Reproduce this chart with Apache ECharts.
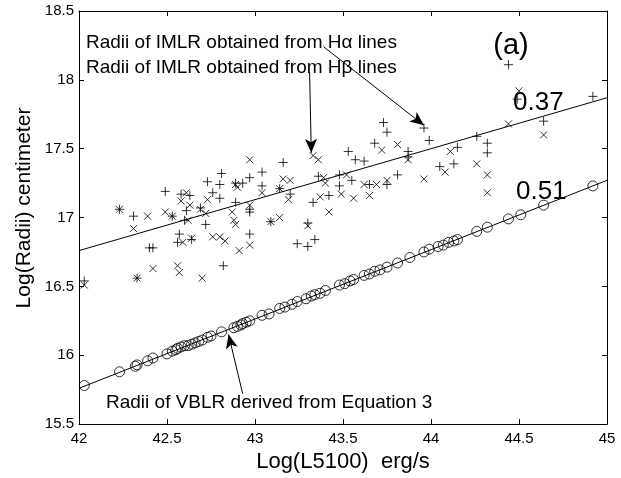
<!DOCTYPE html>
<html>
<head>
<meta charset="utf-8">
<script src="https://cdn.jsdelivr.net/npm/echarts@6/dist/echarts.min.js"></script>
<style>
html, body { margin: 0; padding: 0; background: #fff; }
#chart { width: 621px; height: 478px; }
</style>
</head>
<body>
<div id="chart"></div>
<script>
// Hα (+) radii, [log L5100, log R]
const halphaPoints = [
    [43.04, 17.33], [42.81, 17.32], [42.73, 17.26], [42.80, 17.24], [42.89, 17.25],
    [42.93, 17.25], [42.97, 17.29], [42.49, 17.19], [42.58, 17.17], [42.63, 17.16],
    [42.76, 17.18], [42.80, 17.14], [42.61, 17.05], [42.69, 17.07], [42.53, 17.01],
    [42.23, 17.06], [42.31, 17.01], [42.60, 16.98], [42.72, 16.95], [42.89, 17.11],
    [42.97, 17.06], [43.04, 17.23], [42.97, 17.04], [42.57, 16.88], [42.56, 16.82],
    [42.64, 16.84], [42.97, 16.88], [42.40, 16.78], [42.42, 16.78], [42.82, 16.65],
    [42.33, 16.56], [42.03, 16.54],
    [43.53, 17.48], [43.57, 17.42], [43.62, 17.41], [43.87, 17.44], [43.16, 17.40],
    [44.05, 17.37], [44.13, 17.39], [43.36, 17.30], [43.48, 17.31], [43.55, 17.27],
    [43.65, 17.24], [43.75, 17.24], [43.81, 17.31], [43.14, 17.21], [43.20, 17.17],
    [43.33, 17.11], [43.42, 17.16], [43.48, 17.23], [43.09, 16.97], [43.30, 16.96],
    [43.34, 16.84], [43.30, 16.79], [43.24, 16.81],
    [43.73, 17.69], [43.75, 17.62], [43.96, 17.65], [43.99, 17.56], [43.68, 17.54],
    [43.87, 17.48], [44.15, 17.51],
    [44.44, 18.11], [44.49, 17.86], [44.92, 17.88], [44.64, 17.70], [44.26, 17.59],
    [44.32, 17.54], [44.32, 17.47]
];

// Hβ (x) radii
const hbetaPoints = [
    [42.97, 17.42], [42.89, 17.24], [42.90, 17.22], [42.61, 17.18], [42.58, 17.12],
    [42.73, 17.13], [42.63, 17.09], [42.69, 17.06], [42.49, 17.04], [42.53, 17.01],
    [42.23, 17.06], [42.39, 17.01], [42.31, 16.92], [42.62, 16.98], [42.72, 17.03],
    [42.87, 17.04], [42.97, 17.09], [43.04, 17.18], [42.88, 16.98], [42.89, 16.95],
    [42.59, 16.82], [42.64, 16.85], [42.76, 16.86], [42.80, 16.86], [42.83, 16.83],
    [42.97, 16.80], [42.91, 16.76], [42.56, 16.65], [42.57, 16.60], [42.42, 16.63],
    [42.33, 16.56], [42.70, 16.56], [42.03, 16.51],
    [43.72, 17.49], [44.11, 17.48], [43.33, 17.45], [43.36, 17.42], [43.87, 17.42],
    [44.08, 17.33], [43.16, 17.28], [43.20, 17.27], [43.39, 17.29], [43.40, 17.25],
    [43.52, 17.31], [43.62, 17.24], [43.69, 17.24], [43.75, 17.27], [43.96, 17.28],
    [43.14, 17.21], [43.19, 17.13], [43.37, 17.15], [43.49, 17.17], [43.56, 17.14],
    [43.65, 17.16], [43.42, 17.04], [43.14, 17.00], [43.09, 16.97], [43.30, 16.94],
    [43.81, 17.53],
    [44.50, 17.92], [44.64, 17.60], [44.44, 17.68], [44.26, 17.39], [44.32, 17.31],
    [44.32, 17.18]
];

// VBLR radii (circles)
const vblrPoints = [
    [42.03, 15.78], [42.23, 15.88], [42.32, 15.92], [42.33, 15.93], [42.39, 15.96],
    [42.42, 15.98], [42.50, 16.01], [42.53, 16.03], [42.55, 16.04], [42.56, 16.05],
    [42.58, 16.06], [42.60, 16.07], [42.62, 16.07], [42.64, 16.08], [42.66, 16.09],
    [42.68, 16.10], [42.70, 16.11], [42.73, 16.13], [42.75, 16.14], [42.81, 16.17],
    [42.88, 16.20], [42.90, 16.21], [42.92, 16.22], [42.93, 16.23], [42.95, 16.24],
    [42.97, 16.25], [43.04, 16.29], [43.08, 16.30], [43.14, 16.34], [43.17, 16.35],
    [43.21, 16.37], [43.24, 16.39], [43.29, 16.41], [43.32, 16.43], [43.34, 16.44],
    [43.37, 16.45], [43.40, 16.47], [43.48, 16.51], [43.51, 16.52], [43.54, 16.54],
    [43.56, 16.55], [43.62, 16.58], [43.65, 16.59], [43.68, 16.61], [43.71, 16.62],
    [43.75, 16.64], [43.81, 16.67], [43.88, 16.71], [43.96, 16.75], [43.99, 16.77],
    [44.04, 16.79], [44.07, 16.80], [44.10, 16.82], [44.13, 16.83], [44.15, 16.84],
    [44.26, 16.90], [44.32, 16.93], [44.44, 16.99], [44.51, 17.02], [44.64, 17.09],
    [44.92, 17.23]
];

// fitted lines (slopes 0.37 and 0.51)
const imlrFit = [[42, 16.76], [45, 17.87]];
const vblrFit = [[42, 15.76], [45, 17.27]];

const xTicks = { min: 42, max: 45, step: 0.5 };
const yTicks = { min: 15.5, max: 18.5, step: 0.5 };

const FONT = '"Liberation Sans", Arial, Helvetica, sans-serif';
const PLUS = 'path://M5,0L5,10M0,5L10,5';
const CROSS = 'path://M0,0L10,10M10,0L0,10';

const chart = echarts.init(document.getElementById('chart'));

function boxAxis(t, pos, extra) {
    return Object.assign({
        type: 'value',
        position: pos,
        min: t.min,
        max: t.max,
        interval: t.step,
        axisLine: { show: true, onZero: false, lineStyle: { color: '#000', width: 1 } },
        axisTick: { show: true, inside: true, length: 5, lineStyle: { color: '#000', width: 1 } },
        axisLabel: { show: false },
        splitLine: { show: false }
    }, extra || {});
}

const labelStyle = { show: true, color: '#000', fontSize: 15, fontFamily: FONT };

chart.setOption({
    animation: false,
    backgroundColor: '#fff',
    grid: { left: 79, top: 11, width: 528, height: 415 },
    xAxis: [
        boxAxis(xTicks, 'bottom', {
            axisLabel: Object.assign({ margin: 7 }, labelStyle),
            name: 'Log(L5100)  erg/s',
            nameLocation: 'middle',
            nameGap: 26,
            nameTextStyle: { color: '#000', fontSize: 22, fontFamily: FONT }
        }),
        boxAxis(xTicks, 'top')
    ],
    yAxis: [
        boxAxis(yTicks, 'left', {
            axisLabel: Object.assign({ margin: 5 }, labelStyle)
        }),
        boxAxis(yTicks, 'right')
    ],
    series: [
        {
            name: 'IMLR fit',
            type: 'line',
            data: imlrFit,
            showSymbol: false,
            lineStyle: { color: '#000', width: 1 },
            markLine: {
                silent: true,
                symbol: ['none', 'arrow'],
                symbolSize: [9, 14],
                lineStyle: { color: '#000', width: 1, type: 'solid' },
                label: { show: false },
                data: [
                    [{ coord: [43.39, 18.24] }, { coord: [43.96, 17.67] }],
                    [{ coord: [43.31, 18.06] }, { coord: [43.32, 17.47] }],
                    [{ coord: [42.93, 15.72] }, { coord: [42.85, 16.15] }]
                ]
            }
        },
        {
            name: 'VBLR fit',
            type: 'line',
            data: vblrFit,
            showSymbol: false,
            lineStyle: { color: '#000', width: 1 }
        },
        {
            name: 'Hα',
            type: 'scatter',
            data: halphaPoints,
            symbol: PLUS,
            symbolSize: 9,
            itemStyle: { color: 'none', borderColor: '#000', borderWidth: 1 }
        },
        {
            name: 'Hβ',
            type: 'scatter',
            data: hbetaPoints,
            symbol: CROSS,
            symbolSize: 7,
            itemStyle: { color: 'none', borderColor: '#000', borderWidth: 1 }
        },
        {
            name: 'VBLR',
            type: 'scatter',
            data: vblrPoints,
            symbol: 'circle',
            symbolSize: 10,
            itemStyle: { color: 'none', borderColor: '#000', borderWidth: 1 }
        }
    ],
    graphic: [
        { type: 'text', x: 24, y: 208, rotation: Math.PI / 2, style: { text: 'Log(Radii) centimeter', font: '21px ' + FONT, fill: '#000', align: 'center', verticalAlign: 'middle' } },
        { type: 'text', x: 86, y: 43, style: { text: 'Radii of IMLR obtained from Hα lines', font: '19px ' + FONT, fill: '#000', verticalAlign: 'middle' } },
        { type: 'text', x: 86, y: 68, style: { text: 'Radii of IMLR obtained from Hβ lines', font: '19px ' + FONT, fill: '#000', verticalAlign: 'middle' } },
        { type: 'text', x: 106, y: 403, style: { text: 'Radii of VBLR derived from Equation 3', font: '19px ' + FONT, fill: '#000', verticalAlign: 'middle' } },
        { type: 'text', x: 511, y: 46, style: { text: '(a)', font: '29px ' + FONT, fill: '#000', align: 'center', verticalAlign: 'middle' } },
        { type: 'text', x: 513, y: 103, style: { text: '0.37', font: '26px ' + FONT, fill: '#000', verticalAlign: 'middle' } },
        { type: 'text', x: 516, y: 192, style: { text: '0.51', font: '26px ' + FONT, fill: '#000', verticalAlign: 'middle' } }
    ]
});
</script>
</body>
</html>
